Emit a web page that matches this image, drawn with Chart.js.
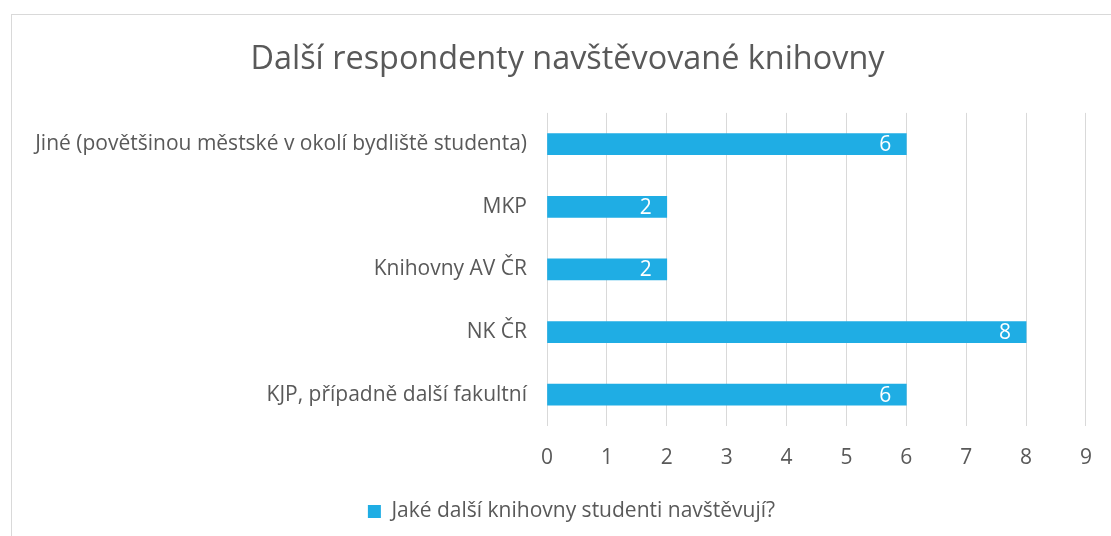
<!DOCTYPE html>
<html>
<head>
<meta charset="utf-8">
<script src="https://cdn.jsdelivr.net/npm/chart.js@4"></script>
<style>
  html, body { margin: 0; padding: 0; background: #fff; overflow: hidden; }
  #frame { position: absolute; left: 11px; top: 14px; width: 1200px; height: 600px; border: 1px solid #d9d9d9; }
  #wrap { position: absolute; left: 0; top: 0; width: 1111px; height: 536px; }
</style>
</head>
<body>
<div id="frame"></div>
<div id="wrap"><canvas id="barChart" width="1111" height="536"></canvas></div>
<script>
// Data
const categories = [
    'Jiné (povětšinou městské v okolí bydliště studenta)',
    'MKP',
    'Knihovny AV ČR',
    'NK ČR',
    'KJP, případně další fakultní'
];
const values = [6, 2, 2, 8, 6];
const xTicks = [0, 1, 2, 3, 4, 5, 6, 7, 8, 9];
const seriesName = 'Jaké další knihovny studenti navštěvují?';
const titleText = 'Další respondenty navštěvované knihovny';

const textGray = '#595959';
const barBlue = '#1fade4';

// white value labels at the end of each bar
const valueLabels = {
    id: 'valueLabels',
    afterDatasetsDraw(chart) {
        const ctx = chart.ctx;
        const meta = chart.getDatasetMeta(0);
        ctx.save();
        ctx.fillStyle = '#ffffff';
        ctx.font = '21px "Open Sans"';
        ctx.textAlign = 'right';
        ctx.textBaseline = 'middle';
        meta.data.forEach((bar, i) => {
            ctx.fillText(String(values[i]), bar.x - 15, bar.y + 1);
        });
        ctx.restore();
    }
};

// title and legend sit a bit right of the plot centre in the original
const shiftBlocks = {
    id: 'shiftBlocks',
    afterLayout(chart) {
        const t = chart.titleBlock;
        if (t) { t.left += 24; t.right += 24; }
        const l = chart.legend;
        if (l) { l.left += 28; l.right += 28; }
    }
};

const ctx = document.getElementById('barChart').getContext('2d');
const barChart = new Chart(ctx, {
    type: 'bar',
    data: {
        labels: categories,
        datasets: [{
            label: seriesName,
            data: values,
            backgroundColor: barBlue,
            barThickness: 21
        }]
    },
    plugins: [valueLabels, shiftBlocks],
    options: {
        indexAxis: 'y',
        responsive: false,
        animation: false,
        layout: { padding: { left: 0, right: 24, top: 0, bottom: 4 } },
        plugins: {
            title: {
                display: true,
                text: titleText,
                color: textGray,
                font: { family: 'Open Sans', size: 32.4, weight: 'normal', lineHeight: 1.2 },
                padding: { top: 40, bottom: 34 }
            },
            legend: {
                display: true,
                position: 'bottom',
                labels: {
                    color: textGray,
                    font: { family: 'Open Sans', size: 21 },
                    boxWidth: 13,
                    boxHeight: 13,
                    padding: 16
                }
            },
            tooltip: { enabled: false }
        },
        scales: {
            x: {
                min: 0,
                max: 9,
                afterBuildTicks: (scale) => { scale.ticks = xTicks.map(v => ({ value: v })); },
                afterFit: (scale) => { scale.height = 59; },
                grid: { color: '#d9d9d9', lineWidth: 1, drawTicks: false },
                border: { display: false },
                ticks: {
                    color: textGray,
                    font: { family: 'Open Sans', size: 21 },
                    padding: 19
                }
            },
            y: {
                afterFit: (scale) => { scale.width = 547; },
                grid: { display: false, drawTicks: false },
                border: { display: false },
                ticks: {
                    color: textGray,
                    font: { family: 'Open Sans', size: 21 },
                    padding: 20
                }
            }
        }
    }
});
</script>
</body>
</html>
